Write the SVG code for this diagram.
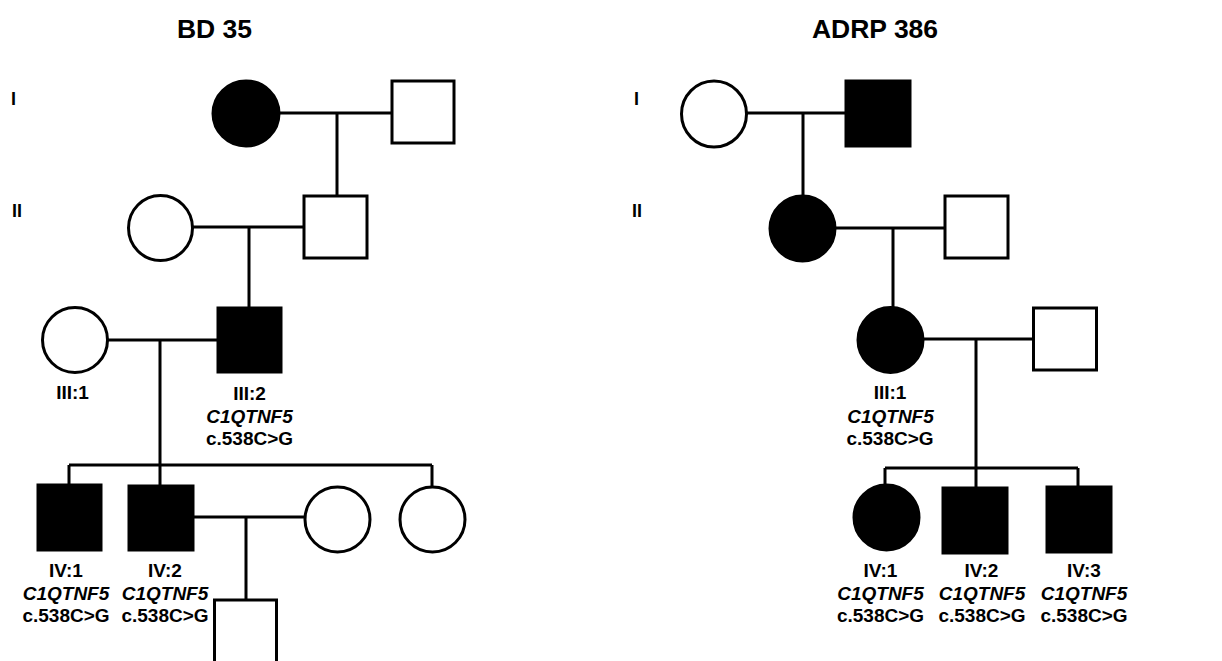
<svg xmlns="http://www.w3.org/2000/svg" width="1222" height="661" viewBox="0 0 1222 661">
<style>
.t{font-family:"Liberation Sans",Arial,sans-serif;font-weight:bold;fill:#000}
.title{font-size:26.5px;text-anchor:middle}
.gen{font-size:18px}
.lab{font-size:19px;text-anchor:middle}
.it{font-style:italic}
.aff{fill:#000;stroke:#000;stroke-width:3}
.un{fill:#fff;stroke:#000;stroke-width:3}
.ln{stroke:#000;stroke-width:3;fill:none}
</style>
<rect width="1222" height="661" fill="#fff"/>
<text class="t title" x="214.5" y="38">BD 35</text>
<text class="t title" x="875" y="38">ADRP 386</text>
<text class="t gen" x="11" y="105">I</text>
<text class="t gen" x="12" y="217">II</text>
<text class="t gen" x="634" y="105">I</text>
<text class="t gen" x="632" y="217">II</text>
<g id="connectors">
<path class="ln" d="M280 113H392M337 113V196"/>
<path class="ln" d="M193 227H304M249 227V307"/>
<path class="ln" d="M108 340H217M160 340V465"/>
<path class="ln" d="M69 465H432M69 465V484M160 465V485M432 465V486"/>
<path class="ln" d="M194 517H305M246 517V600"/>
<path class="ln" d="M747 113H845M803 113V195"/>
<path class="ln" d="M836 228H945M893 228V307"/>
<path class="ln" d="M924 339H1033M976 339V468"/>
<path class="ln" d="M885 468H1078M885 468V484M976 468V487M1078 468V486"/>
</g>
<g id="L-I1"><ellipse class="aff" cx="246" cy="113.5" rx="33" ry="32.5"/></g>
<g id="L-I2"><rect class="un" x="392" y="81" width="62" height="62"/></g>
<g id="L-II1"><ellipse class="un" cx="160.5" cy="228" rx="32" ry="32.5"/></g>
<g id="L-II2"><rect class="un" x="304" y="196" width="63" height="62"/></g>
<g id="L-III1"><ellipse class="un" cx="75" cy="340" rx="32.5" ry="32.5"/>
<text class="t lab" x="72.5" y="399">III:1</text></g>
<g id="L-III2"><rect class="aff" x="218" y="308" width="63" height="64"/>
<text class="t lab" x="249.5" y="400">III:2</text>
<text class="t lab it" x="249.5" y="422.5">C1QTNF5</text>
<text class="t lab" x="249.5" y="445">c.538C&gt;G</text></g>
<g id="L-IV1"><rect class="aff" x="38" y="485" width="63" height="65"/>
<text class="t lab" x="66" y="577">IV:1</text>
<text class="t lab it" x="66" y="599.5">C1QTNF5</text>
<text class="t lab" x="66" y="622">c.538C&gt;G</text></g>
<g id="L-IV2"><rect class="aff" x="129" y="486" width="64" height="64"/>
<text class="t lab" x="165" y="577">IV:2</text>
<text class="t lab it" x="165" y="599.5">C1QTNF5</text>
<text class="t lab" x="165" y="622">c.538C&gt;G</text></g>
<g id="L-IV3"><ellipse class="un" cx="337.5" cy="519.5" rx="32.5" ry="32.5"/></g>
<g id="L-IV4"><ellipse class="un" cx="432.5" cy="519.5" rx="32.5" ry="32.5"/></g>
<g id="L-V1"><rect class="un" x="214.5" y="600" width="62" height="70"/></g>
<g id="R-I1"><ellipse class="un" cx="714" cy="114" rx="32.5" ry="33"/></g>
<g id="R-I2"><rect class="aff" x="846" y="81" width="64" height="65"/></g>
<g id="R-II1"><ellipse class="aff" cx="802.5" cy="228.5" rx="32.5" ry="32.5"/></g>
<g id="R-II2"><rect class="un" x="945" y="196" width="63" height="62"/></g>
<g id="R-III1"><ellipse class="aff" cx="890.5" cy="340" rx="32.5" ry="32.5"/>
<text class="t lab" x="890" y="399">III:1</text>
<text class="t lab it" x="890.5" y="423">C1QTNF5</text>
<text class="t lab" x="890" y="445">c.538C&gt;G</text></g>
<g id="R-III2"><rect class="un" x="1033.5" y="308" width="63" height="62"/></g>
<g id="R-IV1"><ellipse class="aff" cx="886.5" cy="517.5" rx="32.5" ry="32.5"/>
<text class="t lab" x="880.5" y="577">IV:1</text>
<text class="t lab it" x="880.5" y="599.5">C1QTNF5</text>
<text class="t lab" x="880.5" y="622">c.538C&gt;G</text></g>
<g id="R-IV2"><rect class="aff" x="943" y="488" width="64" height="65"/>
<text class="t lab" x="981.5" y="577">IV:2</text>
<text class="t lab it" x="982" y="599.5">C1QTNF5</text>
<text class="t lab" x="982" y="622">c.538C&gt;G</text></g>
<g id="R-IV3"><rect class="aff" x="1047" y="487" width="64" height="65"/>
<text class="t lab" x="1084" y="577">IV:3</text>
<text class="t lab it" x="1084" y="599.5">C1QTNF5</text>
<text class="t lab" x="1084" y="622">c.538C&gt;G</text></g>
</svg>
